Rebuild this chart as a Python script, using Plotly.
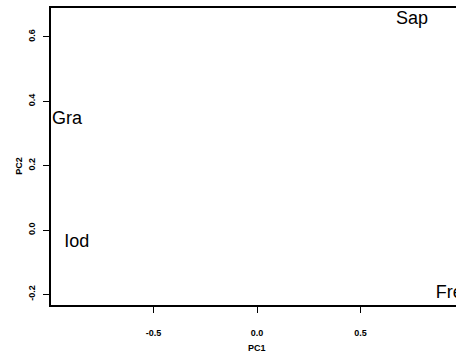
import plotly.graph_objects as go

labels = ["Sap", "Gra", "Iod", "Fre"]
pc1 = [0.749, -0.918, -0.870, 0.928]
pc2 = [0.653, 0.342, -0.040, -0.196]

x_ticks = [-0.5, 0.0, 0.5]
x_ticktext = ["-0.5", "0.0", "0.5"]
y_ticks = [-0.2, 0.0, 0.2, 0.4, 0.6]
y_ticktext = ["-0.2", "0.0", "0.2", "0.4", "0.6"]

fig = go.Figure(go.Scatter(
    x=pc1, y=pc2, text=labels, mode="text",
    textfont=dict(family="Liberation Sans", size=18, color="black"),
    textposition="middle center", cliponaxis=True, hoverinfo="skip"))

tickfont = dict(family="Liberation Sans", size=9, color="black", weight="bold")

fig.update_layout(
    width=456, height=354,
    margin=dict(l=51, r=0, t=8, b=49),
    paper_bgcolor="white", plot_bgcolor="white",
    showlegend=False,
    xaxis=dict(range=[-0.995, 0.961], tickvals=x_ticks, ticktext=x_ticktext,
               showgrid=False, zeroline=False, showline=True, linecolor="black",
               linewidth=1.5, mirror=True, ticks="outside", ticklen=6,
               tickcolor="black", tickwidth=1, tickfont=tickfont,
               ticklabelstandoff=12),
    yaxis=dict(range=[-0.233, 0.690], tickvals=y_ticks, ticktext=y_ticktext,
               showgrid=False, zeroline=False, showline=True, linecolor="black",
               linewidth=1.5, mirror=False, ticks="outside", ticklen=6,
               tickcolor="black", tickwidth=1, tickfont=tickfont, tickangle=-90,
               ticklabelstandoff=5),
    annotations=[
        dict(text="PC1", x=0.0, xref="x", y=348, yref="paper", yanchor="middle",
             showarrow=False, font=dict(family="Liberation Sans", size=9, color="black", weight="bold")),
        dict(text="PC2", x=15, y=0.2, yref="y", textangle=-90, showarrow=False,
             font=dict(family="Liberation Sans", size=9, color="black", weight="bold")),
    ],
)
ph = 354 - 8 - 49
fig.layout.annotations[0].y = (354 - 49 - 348) / ph
fig.layout.annotations[1].xref = "paper"
fig.layout.annotations[1].x = (12 - 51) / 405

fig.write_html("out.html")
